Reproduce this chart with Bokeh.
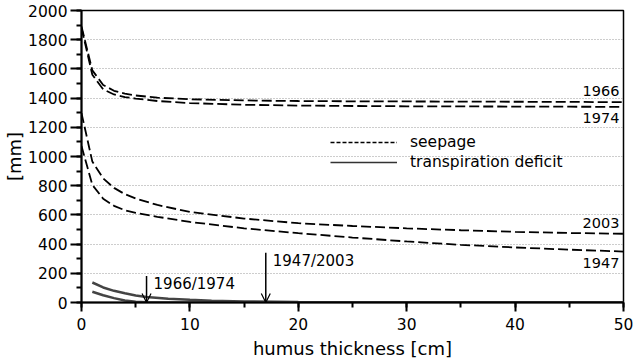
from bokeh.plotting import figure
from bokeh.models import (ColumnDataSource, Range1d, SingleIntervalTicker, Legend,
                          LegendItem, Arrow, OpenHead)
from bokeh.embed import file_html
from bokeh.resources import INLINE
from bokeh.core.properties import value

# ---------------- data ----------------
thickness = [0, 1, 2, 3, 4, 5, 7, 10, 15, 20, 25, 30, 35, 40, 45, 50]
seepage_1966 = [1890, 1590, 1490, 1450, 1430, 1418, 1403, 1392, 1384, 1380, 1378, 1377, 1376, 1375, 1374, 1372]
seepage_1974 = [1880, 1560, 1460, 1425, 1407, 1397, 1380, 1366, 1354, 1349, 1346, 1344, 1343, 1342, 1341, 1340]
seepage_2003 = [1297, 965, 850, 785, 742, 712, 668, 620, 575, 543, 524, 508, 495, 484, 476, 471]
seepage_1947 = [1072, 805, 711, 662, 632, 614, 587, 552, 508, 475, 445, 418, 395, 377, 362, 349]

thickness_tr = [1, 2, 3, 4, 5, 6, 8, 10, 12, 15, 20, 25, 30, 40, 50]
deficit_upper = [137, 103, 80, 63, 48, 38, 25, 18, 12, 7, 3, 1, 0, 0, 0]
deficit_lower = [74, 50, 30, 14, 5, 1, 0, 0, 0, 0, 0, 0, 0, 0, 0]

arrow_x = [6, 17]
arrow_top = [182, 340]
arrow_labels = ["1966/1974", "1947/2003"]

year_above = ["1966", "2003"]
year_below = ["1974", "1947"]

FONT = "DejaVu Sans"
NAN = float("nan")

p = figure(width=633, height=363, output_backend="svg", toolbar_location=None,
           x_range=Range1d(0, 50), y_range=Range1d(0, 2000),
           min_border_left=81, min_border_right=10, min_border_top=10, min_border_bottom=61)
p.background_fill_color = "white"
p.border_fill_color = "white"
p.outline_line_color = "black"
p.outline_line_width = 1.5

p.xaxis.ticker = SingleIntervalTicker(interval=10, num_minor_ticks=2)
p.yaxis.ticker = SingleIntervalTicker(interval=200, num_minor_ticks=2)
p.xgrid.visible = False
p.ygrid.ticker = SingleIntervalTicker(interval=200)
p.ygrid.grid_line_color = "#9a9a9a"
p.ygrid.grid_line_dash = "1 2"
p.ygrid.grid_line_width = 1

for ax in (p.xaxis[0], p.yaxis[0]):
    ax.axis_line_width = 2
    ax.axis_line_color = "black"
    ax.major_tick_line_width = 2
    ax.minor_tick_line_width = 2
    ax.major_tick_line_color = "black"
    ax.minor_tick_line_color = "black"
    ax.major_tick_in = 0
    ax.minor_tick_in = 0
    ax.major_label_text_font = FONT
    ax.major_label_text_font_size = "15.5px"
    ax.major_label_text_color = "black"
    ax.axis_label_text_font = FONT
    ax.axis_label_text_font_style = "normal"
    ax.axis_label_text_font_size = "18px"
    ax.axis_label_text_color = "black"

p.yaxis.major_tick_out = 11
p.yaxis.minor_tick_out = 5
p.xaxis.major_tick_out = 9
p.xaxis.minor_tick_out = 5
p.yaxis.major_label_standoff = 3
p.xaxis.major_label_standoff = 6
p.yaxis.axis_label = "[mm]"
p.xaxis.axis_label = "humus thickness [cm]"
p.yaxis.axis_label_standoff = 0
p.xaxis.axis_label_standoff = 5

# seepage curves
seep = ColumnDataSource(dict(x=thickness, s1966=seepage_1966, s1974=seepage_1974,
                             s2003=seepage_2003, s1947=seepage_1947))
for col in ("s1966", "s1974", "s2003", "s1947"):
    p.line("x", col, source=seep, line_color="black", line_width=1.8, line_dash="10 4")

# transpiration deficit curves
tr = ColumnDataSource(dict(x=thickness_tr, up=deficit_upper, lo=deficit_lower))
p.line("x", "up", source=tr, line_color="#444444", line_width=2.5)
p.line("x", "lo", source=tr, line_color="#444444", line_width=2.5)

# year labels at curve ends
p.text(x=[thickness[-1]] * 2, y=[seepage_1966[-1], seepage_2003[-1]], text=year_above,
       text_align="right", text_baseline="bottom", x_offset=-4, y_offset=-6,
       text_font=value(FONT), text_font_size="14.5px", text_color="black")
p.text(x=[thickness[-1]] * 2, y=[seepage_1974[-1], seepage_1947[-1]], text=year_below,
       text_align="right", text_baseline="top", x_offset=-4, y_offset=6,
       text_font=value(FONT), text_font_size="14.5px", text_color="black")

# arrows
arr = ColumnDataSource(dict(x=arrow_x, top=arrow_top, bottom=[0] * len(arrow_x), lab=arrow_labels))
p.add_layout(Arrow(x_start="x", y_start="top", x_end="x", y_end="bottom", source=arr,
                   line_width=1.5, line_color="black",
                   end=OpenHead(size=9, line_width=1.2, line_color="black")))
p.text(x="x", y="top", text="lab", source=arr, text_align="left", text_baseline="top",
       x_offset=7, y_offset=-1, text_font=value(FONT), text_font_size="15px", text_color="black")

# legend (sample-only renderers; NaN data draws nothing in the plot)
leg_dash = p.line([NAN], [NAN], line_color="black", line_width=1.5, line_dash="4 2")
leg_solid = p.line([NAN], [NAN], line_color="#333333", line_width=1.5)
legend = Legend(items=[LegendItem(label="seepage", renderers=[leg_dash], index=0),
                       LegendItem(label="transpiration deficit", renderers=[leg_solid], index=0)],
                location=(249, 131), orientation="vertical")
legend.glyph_width = 67
legend.glyph_height = 16
legend.label_height = 16
legend.label_standoff = 13
legend.spacing = 2
legend.padding = 0
legend.margin = 0
legend.border_line_alpha = 0
legend.background_fill_alpha = 0
legend.label_text_font = FONT
legend.label_text_font_size = "15.5px"
legend.label_text_color = "black"
p.add_layout(legend)

open("out.html", "w").write(file_html(p, INLINE))
